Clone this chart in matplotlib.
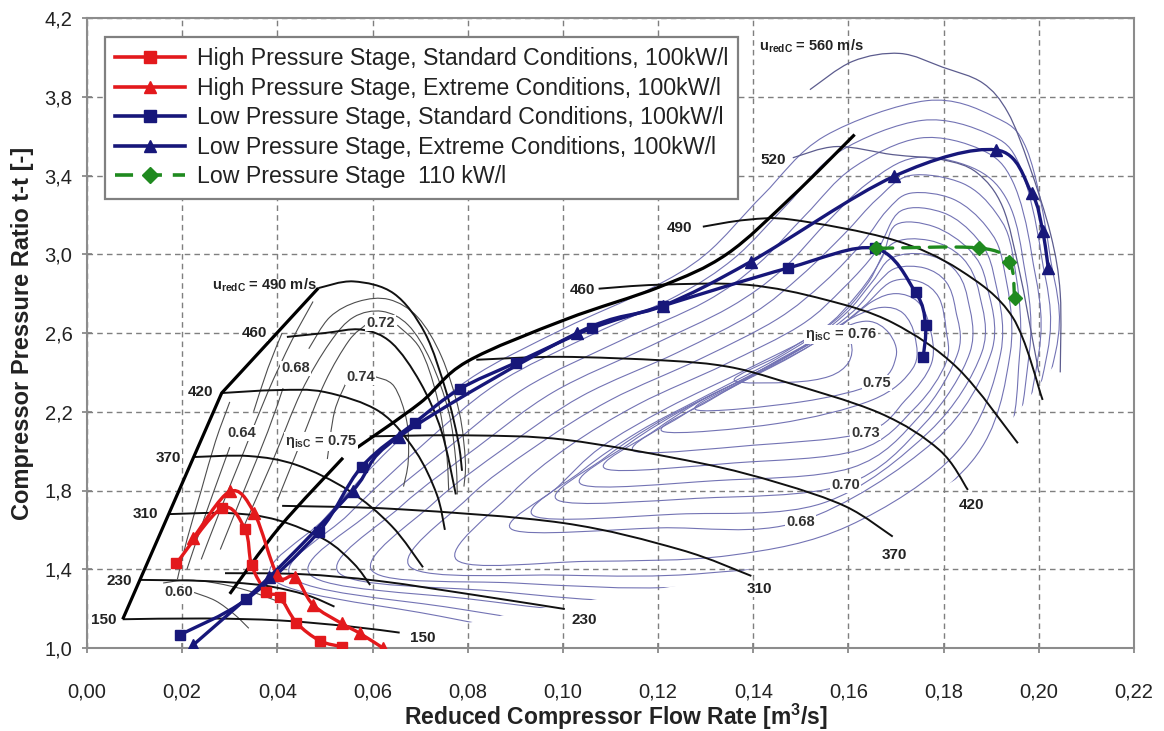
import numpy as np
import matplotlib
matplotlib.use("Agg")
import matplotlib.pyplot as plt
from matplotlib.path import Path
from matplotlib.patches import PathPatch, Polygon
from matplotlib.lines import Line2D

plt.rcParams['font.family'] = ['Liberation Sans', 'DejaVu Sans']
plt.rcParams['mathtext.fontset'] = 'custom'
plt.rcParams['mathtext.rm'] = 'Liberation Sans'

# ---------------- axes ----------------
x_ticks = [0.00, 0.02, 0.04, 0.06, 0.08, 0.10, 0.12, 0.14, 0.16, 0.18, 0.20, 0.22]
x_tick_labels = ["0,00", "0,02", "0,04", "0,06", "0,08", "0,10", "0,12", "0,14", "0,16", "0,18", "0,20", "0,22"]
y_ticks = [1.0, 1.4, 1.8, 2.2, 2.6, 3.0, 3.4, 3.8, 4.2]
y_tick_labels = ["1,0", "1,4", "1,8", "2,2", "2,6", "3,0", "3,4", "3,8", "4,2"]

# ---------------- operating lines ----------------
hp_std_x = [0.0188, 0.0283, 0.0332, 0.0346, 0.0377, 0.0405, 0.0440, 0.0489, 0.0535]
hp_std_y = [1.430, 1.710, 1.603, 1.420, 1.286, 1.260, 1.129, 1.037, 1.007]

hp_ext_x = [0.0223, 0.0300, 0.0351, 0.0400, 0.0437, 0.0475, 0.0535, 0.0573, 0.0622]
hp_ext_y = [1.557, 1.795, 1.688, 1.370, 1.362, 1.219, 1.125, 1.075, 1.000]

lp_std_x = [0.0196, 0.0335, 0.0487, 0.0577, 0.0689, 0.0783, 0.0902, 0.1062, 0.1210,
            0.1473, 0.1655, 0.1741, 0.1762, 0.1757]
lp_std_y = [1.068, 1.247, 1.590, 1.920, 2.145, 2.315, 2.450, 2.625, 2.738,
            2.930, 3.030, 2.806, 2.642, 2.476]

lp_ext_x = [0.0223, 0.0383, 0.0558, 0.0655, 0.1030, 0.1210, 0.1395, 0.1695, 0.1910,
            0.1985, 0.2008, 0.2020]
lp_ext_y = [1.015, 1.360, 1.798, 2.073, 2.600, 2.738, 2.963, 3.395, 3.530,
            3.310, 3.118, 2.928]

lp110_x = [0.1658, 0.1874, 0.1938, 0.1949]
lp110_y = [3.030, 3.032, 2.959, 2.778]

# ---------------- high pressure compressor map ----------------
hp_surge = [(0.0075, 1.146), (0.0283, 2.295), (0.0486, 2.828)]
hp_speed_lines = {
    "150": [(0.0075, 1.146), (0.025, 1.150), (0.0405, 1.140), (0.055, 1.110), (0.0657, 1.078)],
    "230": [(0.0111, 1.346), (0.025, 1.340), (0.037, 1.318), (0.046, 1.270), (0.052, 1.210)],
    "310": [(0.0172, 1.680), (0.030, 1.685), (0.040, 1.650), (0.050, 1.550), (0.056, 1.430), (0.0595, 1.320)],
    "370": [(0.0224, 1.970), (0.034, 1.975), (0.044, 1.930), (0.055, 1.800), (0.064, 1.620), (0.0706, 1.410)],
    "420": [(0.0283, 2.295), (0.040, 2.310), (0.050, 2.300), (0.0615, 2.200), (0.069, 2.000), (0.0735, 1.780), (0.0752, 1.600)],
    "460": [(0.0420, 2.580), (0.050, 2.600), (0.0577, 2.617), (0.064, 2.550), (0.070, 2.350), (0.0745, 2.100), (0.0775, 1.780)],
    "490": [(0.0486, 2.828), (0.056, 2.862), (0.0645, 2.800), (0.071, 2.600), (0.0755, 2.300), (0.078, 2.050), (0.0788, 1.900)],
}
hp_speed_labels = {
    "150": (0.0036, 1.142), "230": (0.0068, 1.342), "310": (0.0122, 1.680),
    "370": (0.0171, 1.966), "420": (0.0238, 2.298), "460": (0.0352, 2.600),
}
hp_eff_lines = [
    [(0.0505, 1.96), (0.0520, 2.20), (0.0545, 2.35)],
    [(0.0603, 2.38), (0.0645, 2.33), (0.0672, 2.15), (0.0675, 1.95), (0.0665, 1.82)],
    [(0.040, 1.75), (0.045, 2.05), (0.050, 2.35), (0.055, 2.56), (0.0585, 2.64)],
    [(0.0652, 2.64), (0.0700, 2.52), (0.0735, 2.28), (0.0755, 2.00), (0.0760, 1.80)],
    [(0.033, 1.62), (0.039, 1.95), (0.045, 2.30), (0.051, 2.55), (0.056, 2.68), (0.062, 2.71),
     (0.0675, 2.64), (0.0722, 2.46), (0.0760, 2.20), (0.0775, 1.95), (0.0778, 1.78)],
    [(0.028, 1.50), (0.033, 1.80), (0.038, 2.10), (0.0412, 2.32)],
    [(0.0466, 2.52), (0.051, 2.68), (0.057, 2.76), (0.0635, 2.77), (0.0695, 2.68),
     (0.0745, 2.48), (0.0782, 2.20), (0.0795, 1.95), (0.0792, 1.82)],
    [(0.024, 1.45), (0.028, 1.70), (0.033, 2.00), (0.038, 2.30), (0.043, 2.56), (0.0475, 2.76)],
    [(0.021, 1.40), (0.0245, 1.65), (0.0285, 1.92), (0.0300, 2.02)],
    [(0.0350, 2.20), (0.038, 2.42), (0.0410, 2.60)],
    [(0.019, 1.35), (0.021, 1.55), (0.024, 1.80), (0.027, 2.05), (0.030, 2.25)],
    [(0.0225, 1.282), (0.027, 1.240), (0.031, 1.170), (0.034, 1.100)],
    [(0.0160, 1.330), (0.021, 1.345), (0.027, 1.330), (0.034, 1.290), (0.042, 1.220)],
]
hp_eff_labels = [("0.72", 0.0617, 2.650), ("0.74", 0.0575, 2.378), ("0.68", 0.0438, 2.420),
                 ("0.64", 0.0326, 2.093), ("0.60", 0.0193, 1.282)]

# ---------------- low pressure compressor map ----------------
lp_surge_low = [(0.0300, 1.275), (0.0405, 1.615), (0.0538, 1.966)]
lp_surge_high = [(0.0567, 2.017), (0.0700, 2.245), (0.0798, 2.454), (0.1007, 2.670),
                 (0.1204, 2.835), (0.1344, 3.000), (0.1480, 3.290), (0.1613, 3.608)]
lp_speed_lines = {
    "230": [(0.0290, 1.380), (0.045, 1.375), (0.0615, 1.340), (0.0826, 1.265), (0.1004, 1.198)],
    "310": [(0.0410, 1.722), (0.0655, 1.705), (0.1000, 1.635), (0.1246, 1.500), (0.1396, 1.366)],
    "370": [(0.0594, 2.075), (0.0800, 2.080), (0.1007, 2.057), (0.1287, 1.940), (0.1455, 1.837),
            (0.1595, 1.718), (0.1693, 1.566)],
    "420": [(0.0818, 2.464), (0.0994, 2.479), (0.1217, 2.460), (0.1344, 2.430), (0.1455, 2.360),
            (0.1665, 2.194), (0.1791, 2.006), (0.1851, 1.803)],
    "460": [(0.1075, 2.825), (0.1200, 2.845), (0.1387, 2.845), (0.1550, 2.770), (0.1693, 2.652),
            (0.1830, 2.420), (0.1956, 2.040)],
    "490": [(0.1294, 3.140), (0.1387, 3.175), (0.1483, 3.175), (0.1693, 3.074), (0.1834, 2.920),
            (0.1945, 2.680), (0.2008, 2.260)],
}
lp_speed_thin = {
    "520": [(0.1483, 3.490), (0.1575, 3.547), (0.1693, 3.506), (0.1798, 3.480), (0.1870, 3.414),
            (0.1924, 3.240), (0.1960, 2.905), (0.1987, 2.565), (0.2000, 2.400)],
    "560": [(0.1519, 3.836), (0.1609, 3.980), (0.1708, 4.020), (0.1798, 3.950), (0.1882, 3.870),
            (0.1935, 3.720), (0.1980, 3.450), (0.2025, 3.100), (0.2045, 2.800), (0.2045, 2.400)],
}
lp_speed_labels = {
    "230": (0.1045, 1.140), "310": (0.1412, 1.300), "370": (0.1697, 1.472), "420": (0.1858, 1.727),
    "150": (0.0706, 1.052), "460": (0.1042, 2.818), "490": (0.1246, 3.135), "520": (0.1441, 3.480),
}
# efficiency islands, innermost first
lp_eff_loops = [
    [(0.136, 2.36), (0.145, 2.48), (0.152, 2.58), (0.157, 2.62), (0.1605, 2.55), (0.160, 2.45),
     (0.156, 2.38), (0.148, 2.35)],
    [(0.128, 2.21), (0.138, 2.36), (0.148, 2.50), (0.157, 2.61), (0.164, 2.66), (0.1685, 2.60),
     (0.170, 2.48), (0.1658, 2.345), (0.150, 2.25)],
    [(0.121, 2.10), (0.131, 2.26), (0.142, 2.41), (0.153, 2.56), (0.161, 2.68), (0.167, 2.73),
     (0.1715, 2.70), (0.174, 2.58), (0.1735, 2.42), (0.1650, 2.26), (0.145, 2.14)],
    [(0.115, 2.00), (0.125, 2.18), (0.136, 2.33), (0.148, 2.48), (0.158, 2.63), (0.165, 2.76),
     (0.170, 2.80), (0.1745, 2.76), (0.177, 2.64), (0.1775, 2.45), (0.172, 2.26), (0.1634, 2.094),
     (0.140, 2.03)],
    [(0.109, 1.91), (0.119, 2.10), (0.130, 2.27), (0.143, 2.42), (0.155, 2.58), (0.163, 2.73),
     (0.169, 2.86), (0.175, 2.86), (0.179, 2.78), (0.1805, 2.62), (0.1805, 2.45), (0.174, 2.22),
     (0.1620, 2.005), (0.136, 1.94)],
    [(0.104, 1.83), (0.114, 2.04), (0.126, 2.22), (0.139, 2.38), (0.152, 2.55), (0.161, 2.71),
     (0.166, 2.85), (0.170, 2.93), (0.176, 2.93), (0.1805, 2.86), (0.1825, 2.72), (0.183, 2.50),
     (0.175, 2.18), (0.1606, 1.915), (0.132, 1.85)],
    [(0.099, 1.75), (0.109, 1.97), (0.121, 2.16), (0.135, 2.33), (0.149, 2.51), (0.159, 2.69),
     (0.165, 2.86), (0.169, 2.98), (0.176, 3.00), (0.182, 2.93), (0.185, 2.78), (0.1855, 2.50),
     (0.176, 2.14), (0.1592, 1.829), (0.128, 1.76)],
    [(0.094, 1.67), (0.104, 1.90), (0.116, 2.10), (0.130, 2.28), (0.145, 2.47), (0.157, 2.66),
     (0.164, 2.85), (0.169, 3.05), (0.177, 3.07), (0.184, 2.98), (0.1875, 2.80), (0.188, 2.50),
     (0.177, 2.10), (0.1545, 1.735), (0.124, 1.68)],
    [(0.0895, 1.60), (0.099, 1.82), (0.108, 2.02), (0.122, 2.22), (0.139, 2.42), (0.154, 2.61),
     (0.162, 2.80), (0.167, 2.98), (0.170, 3.15), (0.178, 3.14), (0.1855, 3.02), (0.189, 2.85),
     (0.190, 2.50), (0.178, 2.05), (0.1497, 1.642), (0.120, 1.61)],
    [(0.0777, 1.447), (0.089, 1.78), (0.101, 2.02), (0.116, 2.24), (0.134, 2.44), (0.150, 2.64),
     (0.159, 2.83), (0.166, 3.02), (0.171, 3.22), (0.180, 3.21), (0.187, 3.08), (0.1905, 2.90),
     (0.192, 2.50), (0.183, 2.00), (0.160, 1.62), (0.135, 1.47), (0.105, 1.44)],
    [(0.068, 1.41), (0.080, 1.76), (0.094, 2.02), (0.110, 2.26), (0.129, 2.47), (0.145, 2.67),
     (0.155, 2.86), (0.163, 3.06), (0.168, 3.22), (0.173, 3.31), (0.182, 3.28), (0.189, 3.14),
     (0.1925, 2.95), (0.194, 2.50), (0.186, 1.95), (0.160, 1.50), (0.130, 1.38), (0.100, 1.37)],
    [(0.060, 1.39), (0.073, 1.74), (0.088, 2.02), (0.104, 2.28), (0.124, 2.50), (0.140, 2.70),
     (0.150, 2.89), (0.159, 3.10), (0.166, 3.28), (0.173, 3.40), (0.184, 3.36), (0.191, 3.21),
     (0.1945, 3.00), (0.196, 2.50), (0.190, 1.90), (0.160, 1.42), (0.125, 1.31), (0.090, 1.33)],
    [(0.053, 1.38), (0.066, 1.72), (0.082, 2.02), (0.098, 2.30), (0.118, 2.53), (0.135, 2.73),
     (0.146, 2.92), (0.155, 3.15), (0.164, 3.36), (0.174, 3.49), (0.186, 3.44), (0.193, 3.29),
     (0.1965, 3.00), (0.198, 2.50), (0.190, 1.80), (0.160, 1.35), (0.120, 1.24), (0.085, 1.29)],
    [(0.047, 1.37), (0.060, 1.70), (0.076, 2.02), (0.092, 2.32), (0.112, 2.56), (0.130, 2.76),
     (0.141, 2.95), (0.151, 3.20), (0.161, 3.44), (0.175, 3.59), (0.188, 3.53), (0.1945, 3.37),
     (0.1985, 3.00), (0.200, 2.50), (0.190, 1.75), (0.160, 1.28), (0.115, 1.18), (0.080, 1.25)],
    [(0.043, 1.36), (0.055, 1.68), (0.070, 2.02), (0.086, 2.34), (0.106, 2.59), (0.124, 2.79),
     (0.136, 2.98), (0.147, 3.25), (0.158, 3.52), (0.1755, 3.68), (0.1895, 3.61), (0.196, 3.45),
     (0.2005, 3.00), (0.2018, 2.50), (0.190, 1.70), (0.160, 1.22), (0.110, 1.12), (0.075, 1.21)],
    [(0.039, 1.35), (0.050, 1.66), (0.064, 2.02), (0.080, 2.36), (0.100, 2.62), (0.118, 2.82),
     (0.130, 3.00), (0.142, 3.30), (0.155, 3.60), (0.1764, 3.78), (0.1905, 3.70), (0.1975, 3.53),
     (0.2023, 3.00), (0.2035, 2.50), (0.190, 1.65), (0.160, 1.17), (0.105, 1.07), (0.070, 1.18)],
]
lp_choke = [(0.0, 4.3), (0.0, 0.9), (0.062, 0.9), (0.075, 1.10), (0.090, 1.18), (0.110, 1.26),
            (0.130, 1.34), (0.1518, 1.48), (0.1672, 1.635), (0.1860, 1.905), (0.2037, 2.45),
            (0.2150, 2.45), (0.2150, 4.3)]
lp_eff_labels = [("0.75", 0.1660, 2.345), ("0.73", 0.1636, 2.094), ("0.70", 0.1594, 1.829),
                 ("0.68", 0.1499, 1.642)]

# ---------------- colours ----------------
RED = "#e3191c"
NAVY = "#17177a"
GREEN = "#1f8a1f"
LP_THIN = "#7373b4"
HP_THIN = "#4d4d4d"


def smooth(points, closed=False):
    p = np.asarray(points, float)
    if closed:
        ext = np.vstack([p[-1:], p, p[:2]])
        n = len(p)
    else:
        ext = np.vstack([p[:1], p, p[-1:]])
        n = len(p) - 1
    verts = [ext[1]]
    codes = [Path.MOVETO]
    for i in range(1, n + 1):
        p0, p1, p2, p3 = ext[i - 1], ext[i], ext[i + 1], ext[i + 2]
        verts += [p1 + (p2 - p0) / 6.0, p2 - (p3 - p1) / 6.0, p2]
        codes += [Path.CURVE4] * 3
    return Path(verts, codes)


fig = plt.figure(figsize=(11.64, 7.31), dpi=100)
ax = fig.add_axes([87 / 1164, 83 / 731, 1047 / 1164, 630 / 731])


def curve(pts, closed=False, clip=None, **kw):
    patch = PathPatch(smooth(pts, closed), fill=False, **kw)
    ax.add_patch(patch)
    if clip is not None:
        patch.set_clip_path(clip)
    return patch


label_box = dict(facecolor="white", edgecolor="none", pad=0.6)

# LP efficiency islands
clip_poly = Polygon(lp_choke, closed=True, transform=ax.transData)
for loop in lp_eff_loops:
    curve(loop, closed=True, clip=clip_poly, edgecolor=LP_THIN, lw=0.8, zorder=1)
for key, pts in lp_speed_thin.items():
    curve(pts, edgecolor="#5c5c8e", lw=0.9, zorder=1.2)

# HP efficiency lines
for pts in hp_eff_lines:
    curve(pts, edgecolor=HP_THIN, lw=0.8, zorder=1.1)

# speed lines
for key, pts in hp_speed_lines.items():
    curve(pts, edgecolor="#111111", lw=1.4, zorder=2)
for key, pts in lp_speed_lines.items():
    curve(pts, edgecolor="#111111", lw=1.4, zorder=2)

# surge lines
sx, sy = zip(*hp_surge)
ax.plot(sx, sy, color="#000000", lw=2.3, zorder=2.5, solid_capstyle="butt")
curve(lp_surge_low, edgecolor="#000000", lw=2.3, zorder=2.5)
curve(lp_surge_high, edgecolor="#000000", lw=2.3, zorder=2.5)

# map labels
for key, (x, y) in hp_speed_labels.items():
    ax.text(x, y, key, fontsize=11, fontweight="bold", ha="center", va="center",
            color="#222222", zorder=3, bbox=label_box)
for key, (x, y) in lp_speed_labels.items():
    ax.text(x, y, key, fontsize=11, fontweight="bold", ha="center", va="center",
            color="#222222", zorder=3, bbox=label_box)
for txt, x, y in hp_eff_labels + lp_eff_labels:
    ax.text(x, y, txt, fontsize=10.5, fontweight="bold", ha="center", va="center",
            color="#333333", zorder=3, bbox=label_box)
ax.text(0.0482, 2.845, r"u$_{\mathregular{redC}}$ = 490 m/s", fontsize=10.5, fontweight="bold",
        ha="right", va="center", color="#222222", zorder=3)
ax.text(0.1412, 4.058, r"u$_{\mathregular{redC}}$ = 560 m/s", fontsize=10.5, fontweight="bold",
        ha="left", va="center", color="#222222", zorder=3)
ax.text(0.0491, 2.047, r"η$_{\mathregular{isC}}$ = 0.75", fontsize=10.5, fontweight="bold",
        ha="center", va="center", color="#333333", zorder=3, bbox=label_box)
ax.text(0.1584, 2.592, r"η$_{\mathregular{isC}}$ = 0.76", fontsize=10.5, fontweight="bold",
        ha="center", va="center", color="#333333", zorder=3, bbox=label_box)

# operating lines
series = [
    (hp_std_x, hp_std_y, RED, "s", 7.5, "-", "High Pressure Stage, Standard Conditions, 100kW/l"),
    (hp_ext_x, hp_ext_y, RED, "^", 8.5, "-", "High Pressure Stage, Extreme Conditions, 100kW/l"),
    (lp_std_x, lp_std_y, NAVY, "s", 7.5, "-", "Low Pressure Stage, Standard Conditions, 100kW/l"),
    (lp_ext_x, lp_ext_y, NAVY, "^", 8.5, "-", "Low Pressure Stage, Extreme Conditions, 100kW/l"),
    (lp110_x, lp110_y, GREEN, "D", 7.5, (0, (5, 3)), "Low Pressure Stage  110 kW/l"),
]
handles = []
for xs, ys, col, mk, ms, ls, lab in series:
    curve(list(zip(xs, ys)), edgecolor=col, lw=2.4, linestyle=ls, zorder=4,
          capstyle="round", joinstyle="round")
    ax.plot(xs, ys, ls="none", marker=mk, ms=ms, color=col, mec=col, zorder=4.5)
    handles.append(Line2D([], [], color=col, lw=2.6, ls=ls, marker=mk, ms=ms + 0.5, mec=col))

leg = ax.legend(handles, [s[-1] for s in series], loc="upper left",
                bbox_to_anchor=(0.0172, 0.9698), borderaxespad=0, fontsize=16.7,
                handlelength=3.0, handletextpad=0.5, labelspacing=0.28, borderpad=0.45,
                frameon=True, fancybox=False, framealpha=1.0)
leg.get_frame().set_edgecolor("#808080")
leg.get_frame().set_linewidth(1.6)
leg.set_zorder(6)
for t in leg.get_texts():
    t.set_color("#222222")

# axes styling
ax.set_xlim(0.0, 0.22)
ax.set_ylim(1.0, 4.2)
ax.set_xticks(x_ticks)
ax.set_xticklabels(x_tick_labels)
ax.set_yticks(y_ticks)
ax.set_yticklabels(y_tick_labels)
ax.tick_params(axis="x", direction="inout", length=7, width=1.2, color="#808080",
               labelsize=14.5, pad=21, labelcolor="#222222")
ax.tick_params(axis="y", direction="inout", length=7, width=1.2, color="#808080",
               labelsize=14.5, pad=7, labelcolor="#222222")
ax.grid(True, color="#7f7f7f", lw=1.0, ls=(0, (4, 3)), zorder=0.5)
ax.set_axisbelow(True)
for sp in ax.spines.values():
    sp.set_color("#8c8c8c")
    sp.set_linewidth(1.5)

ax.set_xlabel("Reduced Compressor Flow Rate [m$^{\\mathregular{3}}$/s]", fontsize=16.5,
              fontweight="bold", color="#222222")
ax.xaxis.set_label_coords(0.505, -0.085)
ax.set_ylabel("Compressor Pressure Ratio t-t [-]", fontsize=17, fontweight="bold",
              color="#222222")
ax.yaxis.set_label_coords(-0.0505, 0.5)

fig.savefig("out.png", dpi=100, facecolor="white")
